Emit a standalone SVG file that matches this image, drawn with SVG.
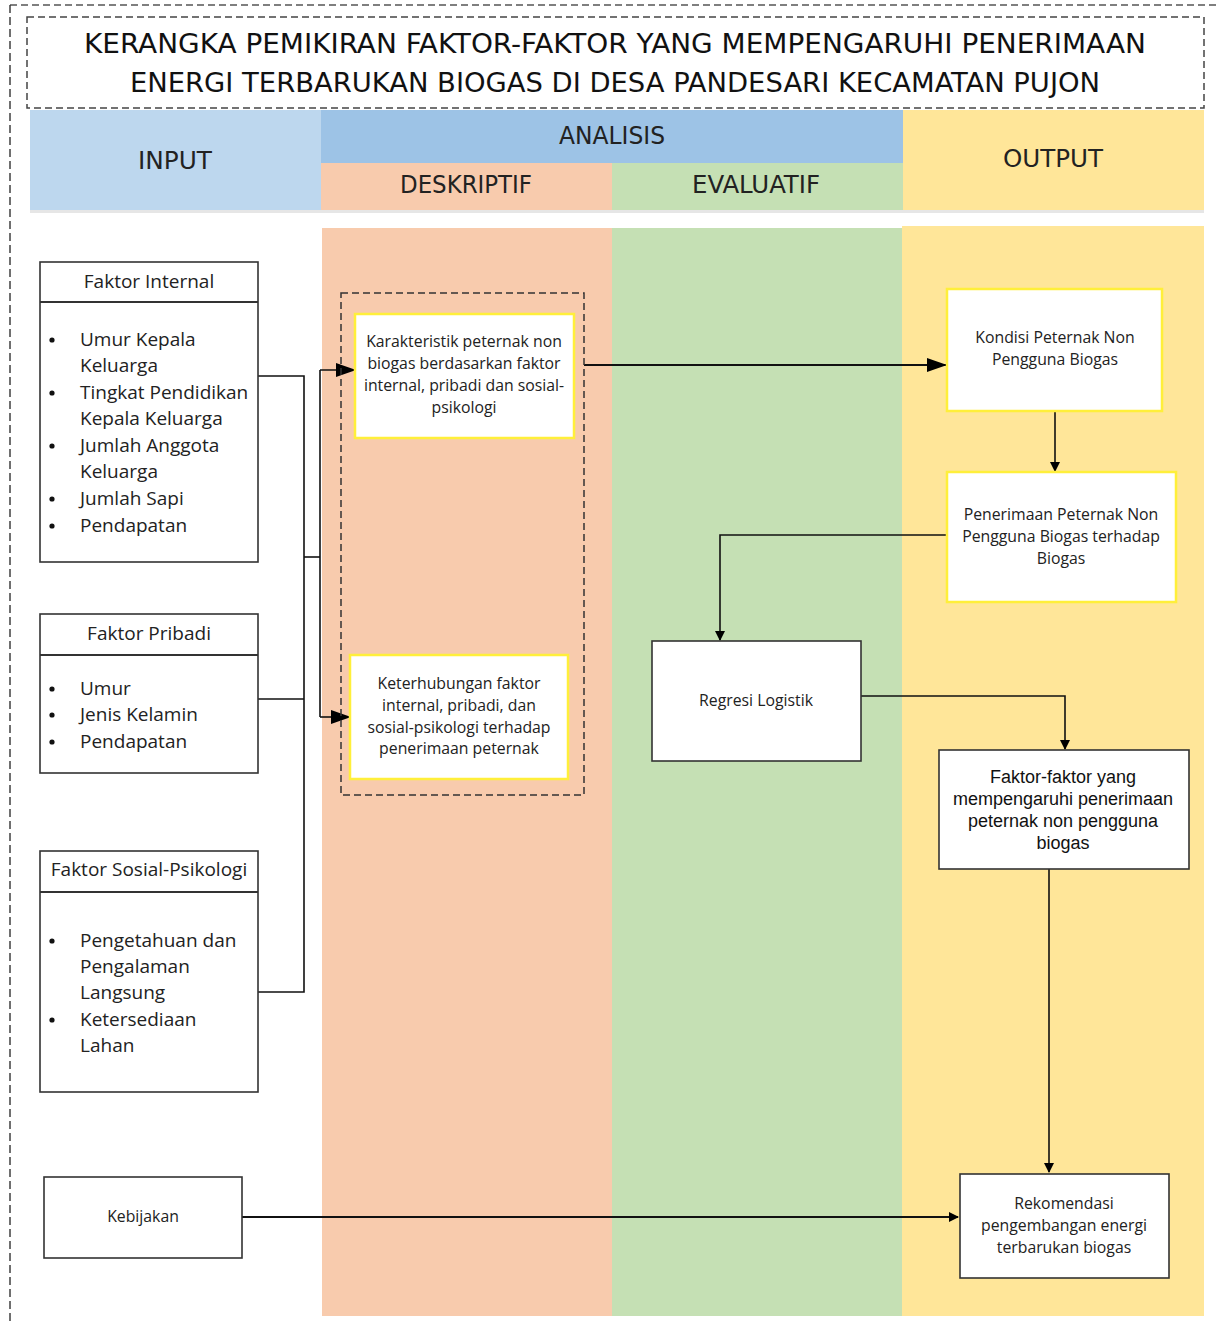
<svg xmlns="http://www.w3.org/2000/svg" width="1217" height="1325" viewBox="0 0 1217 1325">
<defs>
<marker id="ah" markerWidth="10" markerHeight="10" refX="9" refY="5" orient="auto" markerUnits="userSpaceOnUse">
<path d="M0,0 L10,5 L0,10 z" fill="#000"/>
</marker>
<marker id="ahs" markerWidth="20" markerHeight="14" refX="19" refY="7" orient="auto" markerUnits="userSpaceOnUse">
<path d="M0,0 L20,7 L0,14 z" fill="#000"/>
</marker>
</defs>
<style>
.hd{font-family:"DejaVu Sans Condensed","DejaVu Sans",sans-serif;font-size:24px;fill:#222;text-anchor:middle}
.ttl{font-family:"DejaVu Sans Condensed","DejaVu Sans",sans-serif;font-size:27px;fill:#111;text-anchor:middle}
.box{fill:#fff;stroke:#333;stroke-width:1.6}
.ybox{fill:#fff;stroke:#ffef3a;stroke-width:2.5}
.li{font-family:"Open Sans",Lato,sans-serif;font-size:19px;fill:#222}
.lh{font-family:"Open Sans",Lato,sans-serif;font-size:19px;fill:#222;text-anchor:middle}
.t{font-family:"Open Sans",Lato,sans-serif;font-size:15.8px;fill:#222;text-anchor:middle}
.ta{font-family:"Liberation Sans",Arial,sans-serif;font-size:18px;fill:#111;text-anchor:middle}
.c{fill:none;stroke:#111;stroke-width:1.6}
.cb{fill:none;stroke:#111;stroke-width:2}
.dash{fill:none;stroke:#333;stroke-width:1.5;stroke-dasharray:7,4}
</style>
<rect x="0" y="0" width="1217" height="1325" fill="#fff"/>
<g id="frame">
<line x1="10" y1="5" x2="1217" y2="5" stroke="#555" stroke-width="1.4" stroke-dasharray="7,4"/>
<line x1="10" y1="5" x2="10" y2="1325" stroke="#333" stroke-width="1.4" stroke-dasharray="8,4"/>
</g>
<g id="title">
<rect x="27" y="17" width="1177" height="91" fill="#fff" stroke="#444" stroke-width="1.5" stroke-dasharray="7,4"/>
<text class="ttl" x="615" y="53" textLength="1062" lengthAdjust="spacingAndGlyphs">KERANGKA PEMIKIRAN FAKTOR-FAKTOR YANG MEMPENGARUHI PENERIMAAN</text>
<text class="ttl" x="615" y="92" textLength="970" lengthAdjust="spacingAndGlyphs">ENERGI TERBARUKAN BIOGAS DI DESA PANDESARI KECAMATAN PUJON</text>
</g>
<g id="headers">
<rect x="30" y="110" width="291" height="100" fill="#bdd7ee"/>
<rect x="321" y="110" width="584" height="53" fill="#9dc3e6"/>
<rect x="321" y="163" width="291" height="47" fill="#f8cbad"/>
<rect x="612" y="163" width="291" height="47" fill="#c5e0b4"/>
<rect x="903" y="110" width="301" height="100" fill="#ffe699"/>
<rect x="30" y="210" width="1174" height="3" fill="#e6e6e6"/>
<text class="hd" x="175" y="169" textLength="74" lengthAdjust="spacingAndGlyphs">INPUT</text>
<text class="hd" x="612" y="144" textLength="106" lengthAdjust="spacingAndGlyphs">ANALISIS</text>
<text class="hd" x="466" y="193" textLength="132" lengthAdjust="spacingAndGlyphs">DESKRIPTIF</text>
<text class="hd" x="756" y="193" textLength="128" lengthAdjust="spacingAndGlyphs">EVALUATIF</text>
<text class="hd" x="1053" y="167" textLength="100" lengthAdjust="spacingAndGlyphs">OUTPUT</text>
</g>
<g id="columns">
<rect x="322" y="228" width="290" height="1088" fill="#f8cbad"/>
<rect x="612" y="228" width="290" height="1088" fill="#c5e0b4"/>
<rect x="902" y="226" width="302" height="1090" fill="#ffe699"/>
</g>
<g id="connectors">
<polyline class="c" points="258,376 304,376 304,992 258,992"/>
<line class="c" x1="258" y1="699" x2="304" y2="699"/>
<line class="c" x1="304" y1="557" x2="320" y2="557"/>
<polyline class="c" points="320,370 320,717"/>
<line class="c" x1="320" y1="370" x2="355" y2="370" marker-end="url(#ahs)"/>
<line class="c" x1="320" y1="717" x2="350" y2="717" marker-end="url(#ahs)"/>
<line class="cb" x1="584" y1="365" x2="946" y2="365" marker-end="url(#ahs)"/>
<line class="c" x1="1055" y1="411" x2="1055" y2="471" marker-end="url(#ah)"/>
<polyline class="c" points="947,535 720,535 720,640" marker-end="url(#ah)"/>
<polyline class="c" points="861,696 1065,696 1065,749" marker-end="url(#ah)"/>
<line class="c" x1="1049" y1="869" x2="1049" y2="1172" marker-end="url(#ah)"/>
<line class="cb" x1="242" y1="1217" x2="958" y2="1217" marker-end="url(#ah)"/>
</g>
<g id="faktor-internal">
<rect class="box" x="40" y="262" width="218" height="300"/>
<line x1="40" y1="302" x2="258" y2="302" stroke="#333" stroke-width="2"/>
<text class="lh" x="149" y="288">Faktor Internal</text>
<g class="li">
<circle cx="52" cy="340" r="2.6" fill="#111"/><text x="80" y="346">Umur Kepala</text>
<text x="80" y="372">Keluarga</text>
<circle cx="52" cy="393" r="2.6" fill="#111"/><text x="80" y="399">Tingkat Pendidikan</text>
<text x="80" y="425">Kepala Keluarga</text>
<circle cx="52" cy="446" r="2.6" fill="#111"/><text x="80" y="452">Jumlah Anggota</text>
<text x="80" y="478">Keluarga</text>
<circle cx="52" cy="499" r="2.6" fill="#111"/><text x="80" y="505">Jumlah Sapi</text>
<circle cx="52" cy="526" r="2.6" fill="#111"/><text x="80" y="532">Pendapatan</text>
</g>
</g>
<g id="faktor-pribadi">
<rect class="box" x="40" y="614" width="218" height="159"/>
<line x1="40" y1="655" x2="258" y2="655" stroke="#333" stroke-width="2"/>
<text class="lh" x="149" y="640">Faktor Pribadi</text>
<g class="li">
<circle cx="52" cy="689" r="2.6" fill="#111"/><text x="80" y="695">Umur</text>
<circle cx="52" cy="715" r="2.6" fill="#111"/><text x="80" y="721">Jenis Kelamin</text>
<circle cx="52" cy="742" r="2.6" fill="#111"/><text x="80" y="748">Pendapatan</text>
</g>
</g>
<g id="faktor-sosial">
<rect class="box" x="40" y="851" width="218" height="241"/>
<line x1="40" y1="892" x2="258" y2="892" stroke="#333" stroke-width="2"/>
<text class="lh" x="149" y="876">Faktor Sosial-Psikologi</text>
<g class="li">
<circle cx="52" cy="941" r="2.6" fill="#111"/><text x="80" y="947">Pengetahuan dan</text>
<text x="80" y="973">Pengalaman</text>
<text x="80" y="999">Langsung</text>
<circle cx="52" cy="1020" r="2.6" fill="#111"/><text x="80" y="1026">Ketersediaan</text>
<text x="80" y="1052">Lahan</text>
</g>
</g>
<g id="kebijakan">
<rect class="box" x="44" y="1177" width="198" height="81"/>
<text class="t" x="143" y="1222">Kebijakan</text>
</g>
<g id="deskriptif-group">
<rect class="dash" x="341" y="293" width="243" height="502"/>
</g>
<g id="karakteristik">
<rect class="ybox" x="355" y="314" width="219" height="124"/>
<text class="t" x="464" y="347">Karakteristik peternak non</text>
<text class="t" x="464" y="369">biogas berdasarkan faktor</text>
<text class="t" x="464" y="391">internal, pribadi dan sosial-</text>
<text class="t" x="464" y="413">psikologi</text>
</g>
<g id="keterhubungan">
<rect class="ybox" x="350" y="655" width="218" height="124"/>
<text class="t" x="459" y="689">Keterhubungan faktor</text>
<text class="t" x="459" y="711">internal, pribadi, dan</text>
<text class="t" x="459" y="733">sosial-psikologi terhadap</text>
<text class="t" x="459" y="754">penerimaan peternak</text>
</g>
<g id="kondisi">
<rect class="ybox" x="947" y="289" width="215" height="122"/>
<text class="t" x="1055" y="343">Kondisi Peternak Non</text>
<text class="t" x="1055" y="365">Pengguna Biogas</text>
</g>
<g id="penerimaan">
<rect class="ybox" x="947" y="472" width="229" height="130"/>
<text class="t" x="1061" y="520">Penerimaan Peternak Non</text>
<text class="t" x="1061" y="542">Pengguna Biogas terhadap</text>
<text class="t" x="1061" y="564">Biogas</text>
</g>
<g id="regresi">
<rect class="box" x="652" y="641" width="209" height="120"/>
<text class="t" x="756" y="706">Regresi Logistik</text>
</g>
<g id="faktor-faktor">
<rect class="box" x="939" y="750" width="250" height="119"/>
<text class="ta" x="1063" y="783">Faktor-faktor yang</text>
<text class="ta" x="1063" y="805">mempengaruhi penerimaan</text>
<text class="ta" x="1063" y="827">peternak non pengguna</text>
<text class="ta" x="1063" y="849">biogas</text>
</g>
<g id="rekomendasi">
<rect class="box" x="960" y="1174" width="209" height="104"/>
<text class="t" x="1064" y="1209">Rekomendasi</text>
<text class="t" x="1064" y="1231">pengembangan energi</text>
<text class="t" x="1064" y="1253">terbarukan biogas</text>
</g>
</svg>
